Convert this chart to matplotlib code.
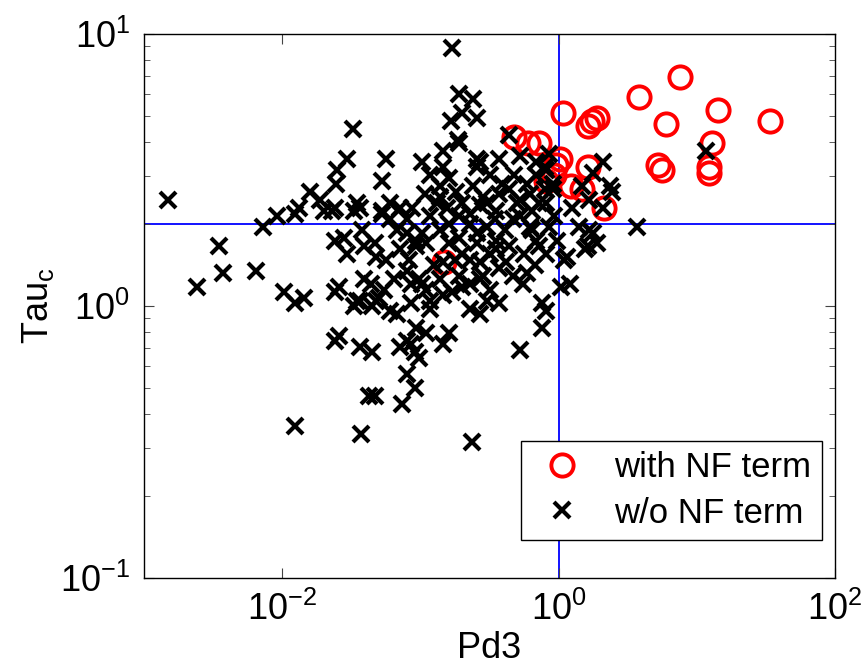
#!/usr/bin/env python

from matplotlib import pyplot as plt
from matplotlib import ticker
import numpy as np

plt.rcParams['font.family'] = ['Liberation Sans', 'DejaVu Sans']
plt.rcParams['mathtext.fontset'] = 'custom'
plt.rcParams['mathtext.rm'] = 'Liberation Sans'
plt.rcParams['mathtext.it'] = 'Liberation Sans'

# red circles, log10 values
nf_log_pd3 = [0.03, 0.28, 0.21, 0.24, 0.58, 0.88, 1.15, 0.78, 1.53, 1.11,
              0.72, 0.75, 1.09, 1.09, -0.32, -0.22, -0.14, 0.01, -0.03, 0.21,
              0.09, 0.17, 0.33, -0.09, -0.83, -0.02]
nf_log_tau = [0.71, 0.69, 0.66, 0.68, 0.77, 0.84, 0.72, 0.67, 0.68, 0.60,
              0.52, 0.50, 0.51, 0.49, 0.62, 0.60, 0.60, 0.54, 0.48, 0.51,
              0.44, 0.43, 0.36, 0.46, 0.16, 0.52]

# black crosses, log10 values
wo_log_pd3 = [
    -2.83, -2.62, -2.46, -2.43, -2.19, -2.14, -2.04, -1.99, -1.91, -1.91,
    -1.84, -1.88, -1.80, -1.73, -1.70, -1.64, -1.62, -1.62, -1.61, -1.60,
    -1.53, -1.49, -1.46, -1.48, -1.62, -1.48, -1.44, -1.44, -1.91, -1.43,
    -1.37,
    -1.25, -1.28, -1.42, -1.22, -1.28, -1.15, -1.06, -1.10, -1.17,
    -0.77, -0.72, -0.62, -0.78, -0.70, -0.59, -0.73, -0.84, -0.72, -0.99,
    -0.93, -0.84, -0.79, -0.86, -0.81, -0.74, -0.70, -0.64, -0.62, -0.59,
    -0.88, -0.86, -0.57, -0.52, -0.43, -0.36, -0.28, -0.07, -0.16, -0.23,
    -0.09, -0.41, -0.30, -0.14, -0.04, -0.10, -0.16, -0.04, -0.59, -0.55,
    -0.28, -0.19, -0.09, -0.45, -0.33, -0.21, -0.07, -0.52,
    0.32, 0.25, 0.37, 0.17, 0.32, 0.22, 0.10, 0.15, 0.22, 1.07,
    0.57, 0.39, 0.28, 0.19, 0.06, 0.25, 0.21, 0.08, 0.02, 0.04,
    -0.12, -0.09, -0.12, -0.28, -0.57, -0.43, -0.26, -0.23, -0.33, -0.50,
    -0.57, -0.38, -0.45, -0.09, -0.16, -0.57, -0.14, -0.19, -0.01,
    -1.53, -1.33, -1.32, -1.25, -1.41, -1.36, -1.46, -1.32, -1.22, -1.10,
    -1.03, -1.07, -0.99, -0.93, -0.84, -0.77, -0.86, -0.96, -1.03, -1.10,
    -1.15, -1.04, -0.79, -0.84, -1.35, -1.10, -1.04, -1.33, -1.13, -0.63,
    -0.64, -0.55, -0.50, -0.43, -0.52, -0.70, -0.79, -0.99, -1.10, -1.22,
    -1.44, -1.28, -1.55, -1.59, -1.59, -0.59, -0.45, -1.62, -1.41, -1.35,
    -1.30, -1.17, -1.07, -1.01, -0.96, -0.93, -0.84, -1.07, -1.01, -0.64,
    -0.64, -0.70, -1.03, -0.96, -0.72, -0.59,
    -0.72, -0.79, -0.64, -0.39, -0.28, -0.43, -0.50, -0.32, -0.93, -0.86,
    -0.97, -0.75, -0.72, -0.90, -0.36, -0.25, -0.17, -0.03, -0.10, -0.21,
    -0.36, -0.57, -0.46, -1.15, -1.08, -1.19, -1.26]
wo_log_tau = [
    0.39, 0.07, 0.22, 0.12, 0.13, 0.29, 0.33, 0.05, 0.34, 0.01,
    0.03, 0.36, 0.42, 0.39, 0.35, 0.35, 0.05, -0.13, 0.45, 0.50,
    0.54, 0.65, 0.38, 0.35, 0.36, 0.00, 0.02, -0.15, -0.44, -0.47,
    -0.33,
    0.54, 0.46, 0.28, 0.38, 0.34, 0.36, 0.36, 0.32, 0.28,
    0.95, 0.78, 0.76, 0.68, 0.71, 0.69, 0.61, 0.57, 0.60, 0.53,
    0.48, 0.51, 0.47, 0.40, 0.36, 0.42, 0.38, 0.34, 0.44, 0.54,
    0.38, 0.44, 0.53, 0.38, 0.54, 0.63, 0.55, 0.56, 0.53, 0.45,
    0.50, 0.45, 0.38, 0.38, 0.43, 0.51, 0.48, 0.45, 0.51, 0.40,
    0.39, 0.35, 0.38, 0.35, 0.32, 0.29, 0.29, 0.29,
    0.53, 0.49, 0.44, 0.44, 0.36, 0.39, 0.36, 0.29, 0.28, 0.57,
    0.29, 0.42, 0.23, 0.21, 0.18, 0.27, 0.22, 0.08, 0.07, 0.17,
    0.01, -0.02, -0.08, -0.16, -0.03, 0.01, 0.08, 0.12, 0.11, 0.06,
    0.10, 0.16, 0.21, 0.19, 0.24, 0.16, 0.22, 0.28, 0.24,
    0.19, 0.23, 0.18, 0.17, 0.10, 0.08, 0.02, 0.02, -0.02, 0.13,
    0.22, 0.08, 0.08, 0.02, 0.04, 0.05, 0.10, -0.10, -0.08, -0.13,
    -0.15, -0.17, -0.10, -0.14, -0.17, -0.25, -0.30, -0.33, -0.36, -0.50,
    0.08, 0.11, 0.19, 0.14, 0.02, 0.19, 0.23, 0.27, 0.27, 0.32,
    0.36, 0.35, 0.25, 0.07, -0.11, 0.27, 0.24, 0.24, 0.22, 0.00,
    0.03, -0.03, 0.01, 0.10, 0.06, -0.01, 0.16, -0.14, -0.19, 0.17,
    -0.01, 0.07, 0.24, 0.23, 0.25, 0.23,
    0.33, 0.30, 0.30, 0.28, 0.33, 0.41, 0.48, 0.48, 0.33, 0.28,
    0.41, 0.17, 0.11, 0.15, 0.22, 0.19, 0.15, 0.33, 0.43, 0.41,
    0.43, 0.37, 0.32, 0.21, 0.17, 0.10, 0.06]

tau_threshold = 2.0
pd3_threshold = 1.0

fig = plt.figure(figsize=(8.65, 6.7), dpi=100)
ax = fig.add_axes([0.1665, 0.1373, 0.7988, 0.812])

ax.plot(10 ** np.array(nf_log_pd3), 10 ** np.array(nf_log_tau), 'o', color='red',
        markerfacecolor='none', markersize=16, markeredgewidth=2.8, label='with NF term')
ax.plot(10 ** np.array(wo_log_pd3), 10 ** np.array(wo_log_tau), 'x', color='black',
        markersize=12, markeredgewidth=3.0, label='w/o NF term')

ax.axhline(tau_threshold, color='blue', lw=1.3, zorder=1)
ax.axvline(pd3_threshold, color='blue', lw=1.3, zorder=1)

ax.set_xscale('log')
ax.set_yscale('log')
ax.set_xlim(1e-3, 1e2)
ax.set_ylim(1e-1, 1e1)

ax.xaxis.set_major_locator(ticker.FixedLocator([1e-2, 1e0, 1e2]))
ax.xaxis.set_minor_locator(ticker.NullLocator())
ax.yaxis.set_major_locator(ticker.LogLocator(base=10))
ax.yaxis.set_minor_locator(ticker.LogLocator(base=10, subs=np.arange(2, 10)))
ax.yaxis.set_minor_formatter(ticker.NullFormatter())

ax.tick_params(which='both', direction='in', top=True, right=True,
               labelsize=26, color='#444444')
ax.tick_params(axis='x', pad=10)
ax.tick_params(axis='y', pad=10)
ax.tick_params(which='major', length=7)
ax.tick_params(which='minor', length=4)
for sp in ax.spines.values():
    sp.set_linewidth(1.0)

ax.set_xlabel('Pd3', fontsize=26, labelpad=2)
ax.set_ylabel(r'Tau$_\mathregular{c}$', fontsize=26, labelpad=3)

leg = ax.legend(loc='lower right', bbox_to_anchor=(0.981, 0.07), borderaxespad=0,
                fontsize=25, fancybox=False, edgecolor='black', framealpha=1,
                handletextpad=0.6, borderpad=0.3, labelspacing=0.35,
                handlelength=1.8)
leg.get_frame().set_linewidth(1.0)

plt.savefig('out.png', dpi=100)
plt.close()
